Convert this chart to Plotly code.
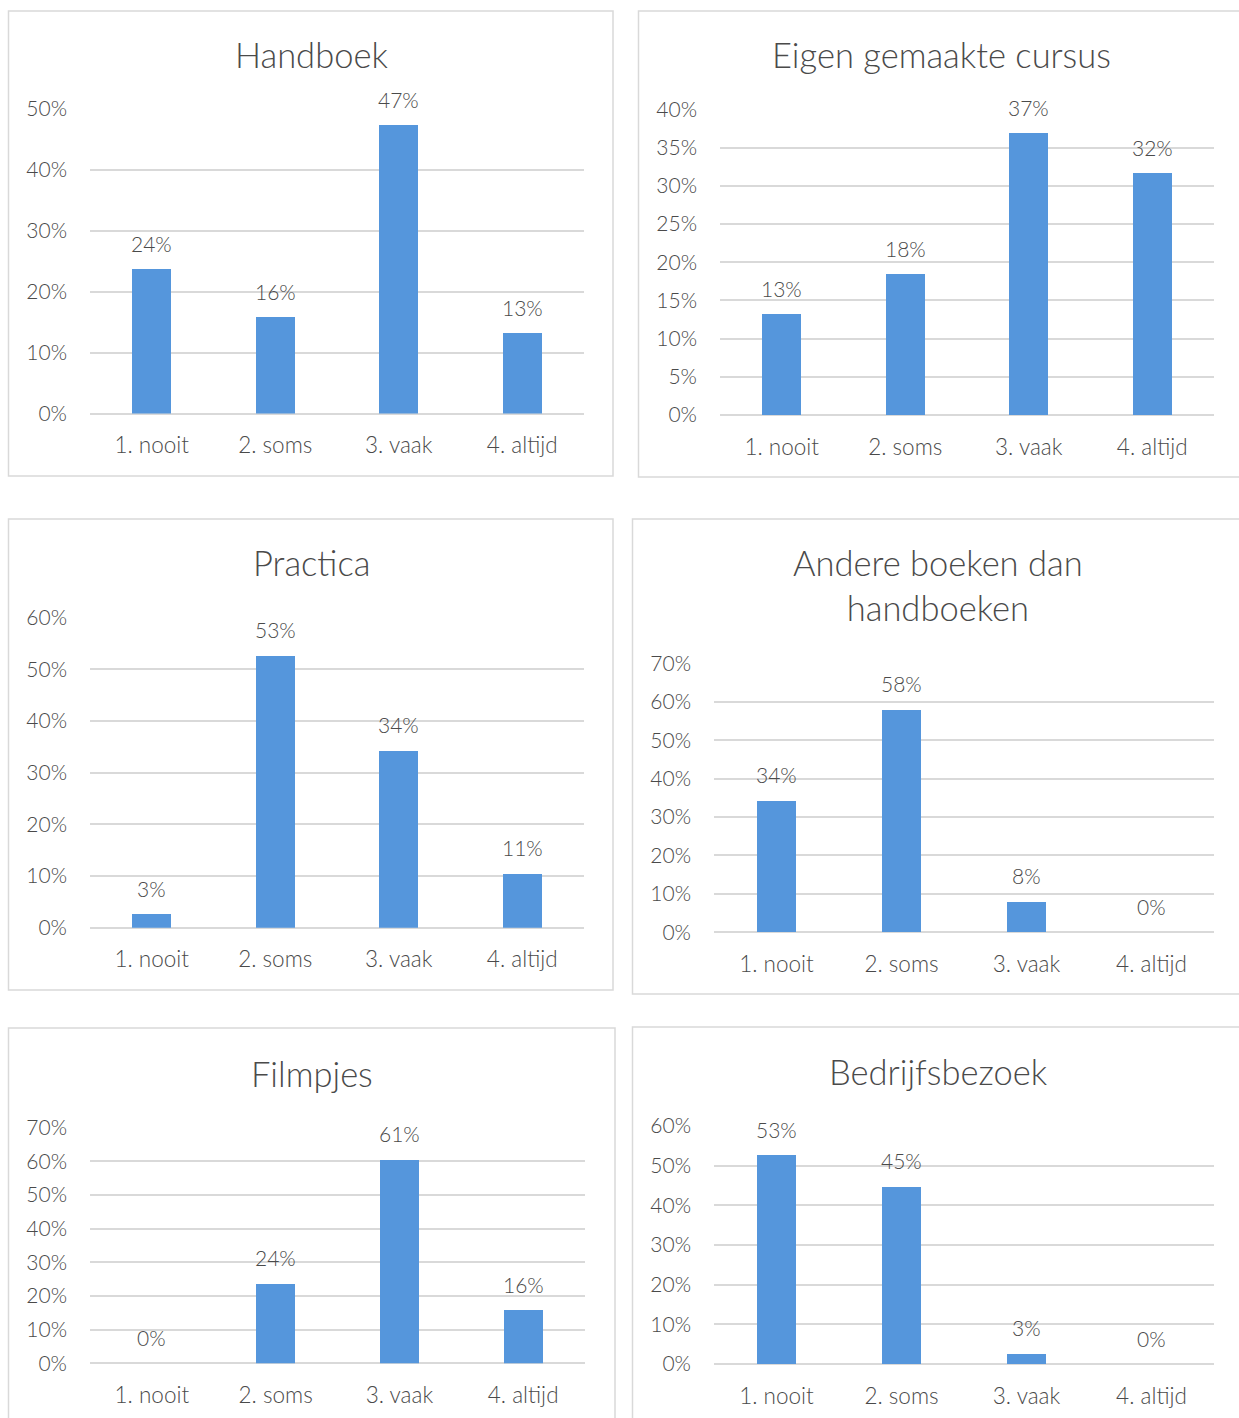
import plotly.graph_objects as go

W, H = 1239, 1418

categories = ["1. nooit", "2. soms", "3. vaak", "4. altijd"]

titles = [
    "Handboek",
    "Eigen gemaakte cursus",
    "Practica",
    "Andere boeken dan<br>handboeken",
    "Filmpjes",
    "Bedrijfsbezoek",
]

handboek = [0.2368, 0.1579, 0.4737, 0.1316]
eigen_cursus = [0.1316, 0.1842, 0.3684, 0.3158]
practica = [0.0263, 0.5263, 0.3421, 0.1053]
andere_boeken = [0.3421, 0.5789, 0.0789, 0.0]
filmpjes = [0.0, 0.2368, 0.6053, 0.1579]
bedrijfsbezoek = [0.5263, 0.4474, 0.0263, 0.0]

series = [handboek, eigen_cursus, practica, andere_boeken, filmpjes, bedrijfsbezoek]
y_max = [0.5, 0.4, 0.6, 0.7, 0.7, 0.6]
y_step = [0.1, 0.05, 0.1, 0.1, 0.1, 0.1]

plots = [
    (90, 584, 109, 413.5),
    (720, 1214, 109.3, 415),
    (90, 584, 617.7, 927.7),
    (714, 1214, 663.3, 932.3),
    (90, 585, 1127.7, 1363.3),
    (714, 1214, 1126, 1364),
]
borders = [
    (8.5, 11, 613, 476),
    (638.5, 11, 1250, 477),
    (8.5, 519, 613, 990),
    (632.5, 519, 1250, 994),
    (8.5, 1028, 615, 1430),
    (632.5, 1027, 1250, 1430),
]
title_pos = [
    (311, 54),
    (941, 54),
    (311, 563),
    (938, 585),
    (312, 1073),
    (938, 1071),
]

BAR = "#5596DC"
TXT = "#4A4A4A"
GRID = "#D9D9D9"
FONT = "Lato"

fig = go.Figure()
annotations = []
shapes = []

for i, vals in enumerate(series):
    n = i + 1
    xa = "x" if n == 1 else f"x{n}"
    ya = "y" if n == 1 else f"y{n}"
    px0, px1, pyt, pyb = plots[i]
    fig.add_trace(go.Bar(
        x=categories, y=vals, width=0.315,
        marker=dict(color=BAR, line=dict(width=0)),
        xaxis=xa, yaxis=ya, showlegend=False, hoverinfo="skip",
    ))
    xkey = "xaxis" if n == 1 else f"xaxis{n}"
    ykey = "yaxis" if n == 1 else f"yaxis{n}"
    fig.update_layout(**{
        xkey: dict(
            domain=[px0 / W, px1 / W], anchor=ya,
            showgrid=False, zeroline=False, showline=False,
            tickfont=dict(family=FONT, size=22.5, color=TXT, weight=300),
            ticks="", ticklabelstandoff=16, fixedrange=True, automargin=False,
        ),
        ykey: dict(
            domain=[1 - pyb / H, 1 - pyt / H], anchor=xa,
            range=[0, y_max[i]], dtick=y_step[i], tick0=0, tickformat=".0%",
            showgrid=True, gridcolor=GRID, gridwidth=1.5,
            zeroline=True, zerolinecolor=GRID, zerolinewidth=1.5,
            showline=False, ticks="",
            tickfont=dict(family=FONT, size=21, color=TXT, weight=300),
            ticklabelstandoff=22, fixedrange=True, automargin=False,
        ),
    })
    for c, v in zip(categories, vals):
        annotations.append(dict(
            x=c, y=v, xref=xa, yref=ya, text=f"{round(v * 100)}%",
            showarrow=False, yanchor="middle", yshift=26,
            font=dict(family=FONT, size=21, color=TXT, weight=300),
        ))
    bx0, by0, bx1, by1 = borders[i]
    shapes.append(dict(
        type="rect", xref="paper", yref="paper",
        x0=bx0 / W, x1=bx1 / W, y0=1 - by1 / H, y1=1 - by0 / H,
        line=dict(color=GRID, width=1.5), fillcolor="rgba(0,0,0,0)", layer="below",
    ))
    tx, ty = title_pos[i]
    annotations.append(dict(
        x=tx / W, y=1 - ty / H, xref="paper", yref="paper",
        text=titles[i], showarrow=False, xanchor="center", yanchor="middle",
        font=dict(family=FONT, size=34.5, color=TXT, weight=300),
    ))

fig.update_layout(
    width=W, height=H,
    margin=dict(l=0, r=0, t=0, b=0, pad=0, autoexpand=False),
    paper_bgcolor="white", plot_bgcolor="rgba(0,0,0,0)",
    annotations=annotations, shapes=shapes,
    bargap=0,
)

fig.write_html("out.html")
